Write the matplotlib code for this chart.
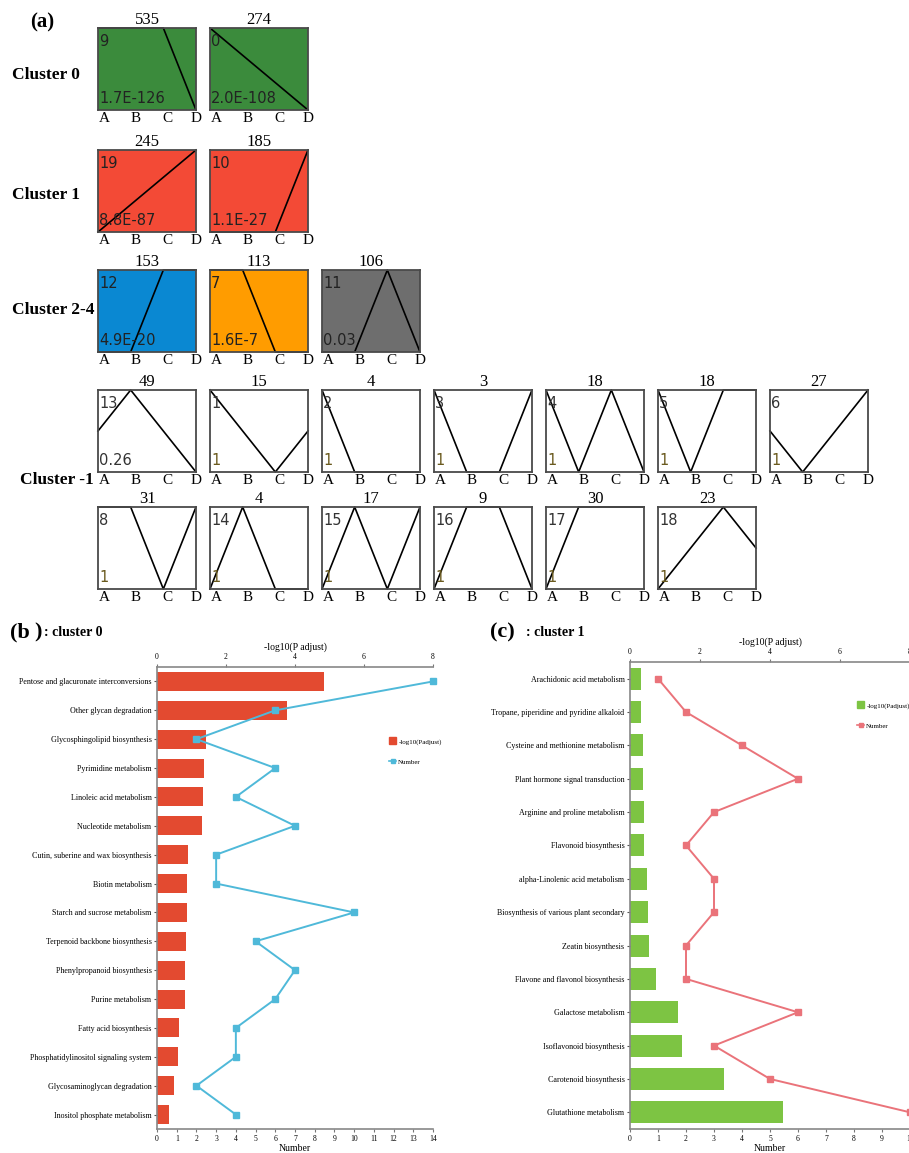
import numpy as np
import matplotlib.pyplot as plt
from matplotlib.patches import Patch
from matplotlib.lines import Line2D

plt.rcParams['font.family'] = ['Liberation Serif', 'DejaVu Serif']

W, H = 909, 1153

# STEM profiles: id, gene count, p-value, model shape over A-D
profile_ids = [9, 0, 19, 10, 12, 7, 11,
               13, 1, 2, 3, 4, 5, 6,
               8, 14, 15, 16, 17, 18]
gene_counts = [535, 274, 245, 185, 153, 113, 106,
               49, 15, 4, 3, 18, 18, 27,
               31, 4, 17, 9, 30, 23]
p_values = ['1.7E-126', '2.0E-108', '8.8E-87', '1.1E-27', '4.9E-20', '1.6E-7', '0.03',
            '0.26', '1', '1', '1', '1', '1', '1',
            '1', '1', '1', '1', '1', '1']
profile_shapes = [[0, 0, 0, -1], [0, -1, -2, -3], [0, 1, 2, 3], [0, 0, 0, 1],
                  [0, 0, 1, 1], [0, 0, -1, -1], [0, 0, 1, 0],
                  [0, 1, 0, -1], [0, -1, -2, -1], [0, -1, -1, -1], [0, -1, -1, 0],
                  [0, -1, 0, -1], [0, -1, 0, 0], [0, -1, 0, 1],
                  [0, 0, -1, 0], [0, 1, 0, 0], [0, 1, 0, 1], [0, 1, 1, 0],
                  [0, 1, 1, 1], [0, 1, 2, 1]]
time_points = ['A', 'B', 'C', 'D']

cluster_names = ['Cluster 0', 'Cluster 1', 'Cluster 2-4', 'Cluster -1']

# (row, column) slot of each profile box
slots = [(0, 0), (0, 1), (1, 0), (1, 1), (2, 0), (2, 1), (2, 2),
         (3, 0), (3, 1), (3, 2), (3, 3), (3, 4), (3, 5), (3, 6),
         (4, 0), (4, 1), (4, 2), (4, 3), (4, 4), (4, 5)]
box_colors = ['#3b8b3c', '#3b8b3c', '#f34a36', '#f34a36', '#0a88d2', '#ff9c00', '#6e6e6e'] + ['white'] * 13

# KEGG enrichment, cluster 0
b_pathways = ['Pentose and glacuronate interconversions', 'Other glycan degradation',
              'Glycosphingolipid biosynthesis', 'Pyrimidine metabolism',
              'Linoleic acid metabolism', 'Nucleotide metabolism',
              'Cutin, suberine and wax biosynthesis', 'Biotin metabolism',
              'Starch and sucrose metabolism', 'Terpenoid backbone biosynthesis',
              'Phenylpropanoid biosynthesis', 'Purine metabolism',
              'Fatty acid biosynthesis', 'Phosphatidylinositol signaling system',
              'Glycosaminoglycan degradation', 'Inositol phosphate metabolism']
b_logp = [4.84, 3.78, 1.42, 1.36, 1.32, 1.30, 0.90, 0.88, 0.86, 0.84, 0.82, 0.82, 0.65, 0.62, 0.50, 0.36]
b_number = [14, 6, 2, 6, 4, 7, 3, 3, 10, 5, 7, 6, 4, 4, 2, 4]

# KEGG enrichment, cluster 1
c_pathways = ['Arachidonic acid metabolism', 'Tropane, piperidine and pyridine alkaloid',
              'Cysteine and methionine metabolism', 'Plant hormone signal transduction',
              'Arginine and proline metabolism', 'Flavonoid biosynthesis',
              'alpha-Linolenic acid metabolism', 'Biosynthesis of various plant secondary',
              'Zeatin biosynthesis', 'Flavone and flavonol biosynthesis',
              'Galactose metabolism', 'Isoflavonoid biosynthesis',
              'Carotenoid biosynthesis', 'Glutathione metabolism']
c_logp = [0.30, 0.32, 0.36, 0.37, 0.39, 0.40, 0.49, 0.51, 0.55, 0.75, 1.36, 1.48, 2.69, 4.36]
c_number = [1, 2, 4, 6, 3, 2, 3, 3, 2, 2, 6, 3, 5, 10]


def rect(x0, y0, x1, y1):
    return [x0 / W, 1 - y1 / H, (x1 - x0) / W, (y1 - y0) / H]


def ftext(x, y, s, **kw):
    fig.text(x / W, 1 - y / H, s, **kw)


fig = plt.figure(figsize=(W / 100, H / 100), dpi=100)

# ---- (a) profile boxes ----
row_top = [28, 150, 270, 390, 507]
box_w, box_h = 98, 82
for pid, cnt, pv, shape, (r, c), col in zip(profile_ids, gene_counts, p_values,
                                            profile_shapes, slots, box_colors):
    x0 = 98 + 112 * c
    y0 = row_top[r]
    ax = fig.add_axes(rect(x0, y0, x0 + box_w, y0 + box_h))
    ax.set_facecolor(col)
    ax.set_xlim(0, 3)
    ax.set_ylim(0, 1)
    ax.set_xticks([])
    ax.set_yticks([])
    for s in ax.spines.values():
        s.set_color('#4a4a4a')
        s.set_linewidth(1.3)
    v = np.array(shape, dtype=float)
    v = (v - v.min()) / (v.max() - v.min())
    ax.plot(range(4), v, color='black', lw=1.2, clip_on=False)
    ax.set_title(str(cnt), fontsize=12, pad=1)
    txt_col = '#222222' if col != 'white' else '#333333'
    ax.text(0.01, 0.84, str(pid), transform=ax.transAxes, fontsize=10.5,
            family='DejaVu Sans', color=txt_col, va='center')
    ax.text(0.01, 0.14, pv, transform=ax.transAxes, fontsize=10.5,
            family='DejaVu Sans', color=txt_col if pv != '1' else '#6a5a1e', va='center')
    for k, tp in enumerate(time_points):
        ax.text([0.2, 1.15, 2.12, 3.0][k], -0.03, tp, fontsize=11,
                ha='center', va='top', clip_on=False)

ftext(30, 22, '(a)', fontsize=15, fontweight='bold', va='center')
for name, (x, y) in zip(cluster_names, [(12, 75), (12, 195), (12, 310), (20, 480)]):
    ftext(x, y, name, fontsize=12.5, fontweight='bold', va='center')


# ---- (b) and (c) enrichment bars ----
def enrich_panel(box, names, logp, number, bar_col, line_col, top_max, num_max, leg_xy):
    ax = fig.add_axes(rect(*box))
    ax2 = ax.twiny()
    n = len(names)
    ax.barh(range(n), logp, height=0.66, color=bar_col)
    ax.set_xlim(0, top_max)
    ax.set_ylim(n - 0.5, -0.5)
    ax.xaxis.tick_top()
    ax.xaxis.set_label_position('top')
    ax.set_xticks(range(0, top_max + 1, 2))
    ax.set_xlabel('-log10(P adjust)', fontsize=7, labelpad=3)
    ax.set_yticks(range(n))
    ax.set_yticklabels(names, fontsize=5.8)
    ax.tick_params(axis='x', labelsize=5.5, length=2.5, width=0.8, pad=1.5, color='#777777')
    ax.tick_params(axis='y', length=2.5, width=0.8, pad=1.5, color='#555555')
    for s in ['right', 'bottom']:
        ax.spines[s].set_visible(False)
    for s in ['left', 'top']:
        ax.spines[s].set_color('#888888')
        ax.spines[s].set_linewidth(1.2)

    ax2.plot(number, range(n), color=line_col, lw=1.4, marker='s', markersize=4, clip_on=False)
    ax2.set_xlim(0, num_max)
    ax2.xaxis.tick_bottom()
    ax2.xaxis.set_label_position('bottom')
    ax2.set_xticks(range(num_max + 1))
    ax2.set_xlabel('Number', fontsize=7, labelpad=1)
    ax2.tick_params(axis='x', labelsize=5.5, length=2.5, width=0.8, pad=1.5, color='#777777')
    for s in ['right', 'top', 'left']:
        ax2.spines[s].set_visible(False)
    ax2.spines['bottom'].set_color('#888888')
    ax2.spines['bottom'].set_linewidth(1.2)

    handles = [Patch(color=bar_col),
               Line2D([], [], color=line_col, lw=1.2, marker='s', markersize=3.5)]
    fig.legend(handles, ['-log10(Padjust)', 'Number'], loc='upper left',
               bbox_to_anchor=(leg_xy[0] / W, 1 - leg_xy[1] / H), frameon=False,
               fontsize=5, handlelength=1.0, handleheight=1.2, handletextpad=0.3,
               labelspacing=1.9)


enrich_panel((157, 667, 433, 1129), b_pathways, b_logp, b_number,
             '#e34a30', '#4fb9d9', 8, 14, (383, 731))
enrich_panel((630, 662, 910, 1129), c_pathways, c_logp, c_number,
             '#7dc443', '#ea737a', 8, 10, (851, 695))

ftext(10, 632, '(b', fontsize=16, fontweight='bold', va='center')
ftext(34, 632, ')', fontsize=16, fontweight='bold', va='center')
ftext(44, 633, ': cluster 0', fontsize=10, fontweight='bold', va='center')
ftext(490, 632, '(c)', fontsize=16, fontweight='bold', va='center')
ftext(526, 633, ': cluster 1', fontsize=10, fontweight='bold', va='center')

fig.savefig('out.png', dpi=100)
